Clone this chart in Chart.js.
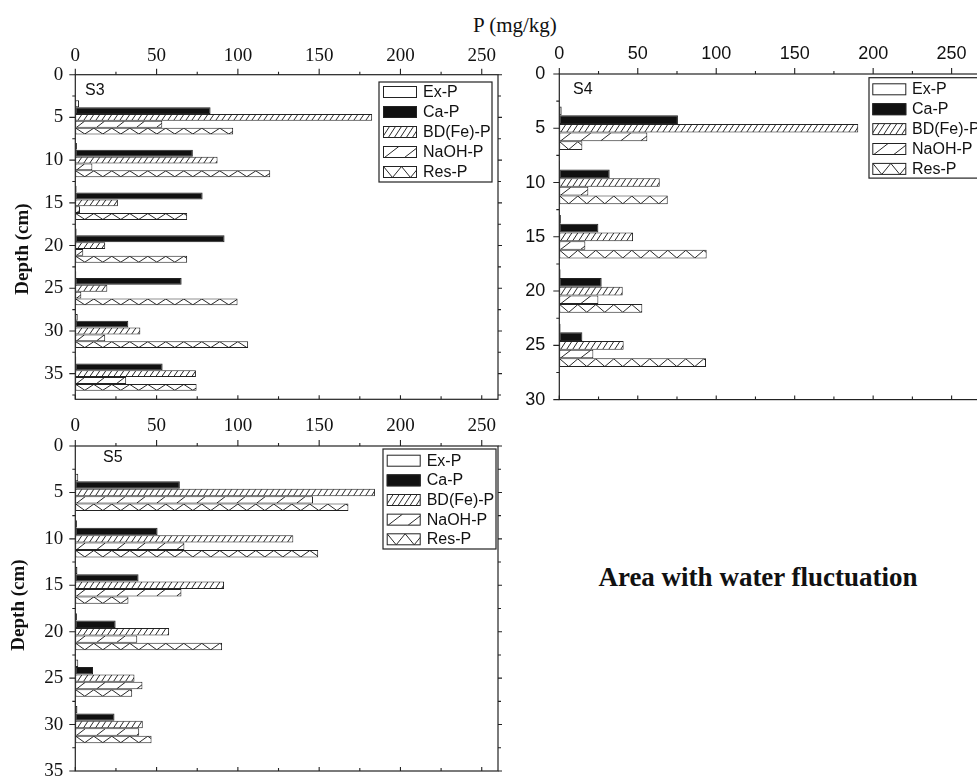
<!DOCTYPE html>
<html><head><meta charset="utf-8">
<script src="https://cdn.jsdelivr.net/npm/chart.js@4.4.1/dist/chart.umd.min.js"></script>
<style>
html,body{margin:0;padding:0;background:#fff;width:977px;height:778px;overflow:hidden;position:relative;}
canvas{position:absolute;}
.t{position:absolute;font-family:"Liberation Serif","Times New Roman",serif;color:#111;white-space:nowrap;}
</style></head><body>
<div class="t" style="left:473px;top:13px;font-size:21px;line-height:24px;">P (mg/kg)</div>
<div class="t" style="left:558px;width:400px;top:562px;text-align:center;font-size:27px;line-height:30px;font-weight:bold;">Area with water fluctuation</div>
<canvas id="c3"></canvas>
<canvas id="c4"></canvas>
<canvas id="c5"></canvas>
<script>
// ---------------- data ----------------
const seriesNames = ['Ex-P', 'Ca-P', 'BD(Fe)-P', 'NaOH-P', 'Res-P'];
const pTicks = [0, 50, 100, 150, 200, 250];

const depthsS3 = [5, 10, 15, 20, 25, 30, 35];
const depthTicksS3 = [0, 5, 10, 15, 20, 25, 30, 35];
const s3ExP   = [2.3, 1.0, 0.8, 0.8, 0.6, 1.5, 0.6];
const s3CaP   = [83.2, 72.3, 78.3, 91.8, 65.4, 32.6, 53.7];
const s3BDFeP = [182.6, 87.5, 26.2, 18.4, 19.7, 40.0, 74.2];
const s3NaOHP = [53.5, 10.5, 2.9, 4.9, 3.7, 18.4, 31.3];
const s3ResP  = [97.1, 119.9, 68.8, 68.8, 99.8, 106.3, 74.6];

const depthsS4 = [5, 10, 15, 20, 25];
const depthTicksS4 = [0, 5, 10, 15, 20, 25, 30];
const s4ExP   = [1.5, 0.4, 1.0, 0.8, 0.8];
const s4CaP   = [75.6, 32.1, 24.9, 27.0, 14.7];
const s4BDFeP = [190.5, 64.0, 47.0, 40.4, 41.0];
const s4NaOHP = [56.1, 18.5, 16.6, 24.9, 21.7];
const s4ResP  = [14.7, 69.1, 93.9, 52.9, 93.5];

const depthsS5 = [5, 10, 15, 20, 25, 30];
const depthTicksS5 = [0, 5, 10, 15, 20, 25, 30, 35];
const s5ExP   = [1.8, 1.0, 1.3, 1.0, 1.8, 1.3];
const s5CaP   = [64.3, 50.6, 38.9, 24.8, 10.9, 24.1];
const s5BDFeP = [184.3, 134.1, 91.5, 57.7, 36.4, 41.5];
const s5NaOHP = [146.2, 67.1, 65.3, 38.1, 41.3, 39.3];
const s5ResP  = [168.0, 149.4, 32.7, 90.3, 35.0, 46.9];

// ---------------- styles ----------------
const hatchTypes = ['none', 'solid', 'dense', 'sparse', 'zigzag'];
const LINE = '#222';

function drawHatch(ctx, type, l, t, w, h) {
  if (type === 'none' || type === 'solid' || w <= 0) return;
  ctx.save();
  ctx.beginPath(); ctx.rect(l, t, w, h); ctx.clip();
  ctx.strokeStyle = '#111'; ctx.lineWidth = 0.9;
  ctx.beginPath();
  if (type === 'dense') {
    const step = 6, run = Math.max(4, h * 0.65);
    for (let x0 = l - run; x0 < l + w + step; x0 += step) { ctx.moveTo(x0, t + h); ctx.lineTo(x0 + run, t); }
  } else if (type === 'sparse') {
    const step = 20, run = h * 1.3;
    for (let x0 = l + 1; x0 < l + w + step; x0 += step) { ctx.moveTo(x0, t + h); ctx.lineTo(x0 + run, t); }
  } else if (type === 'zigzag') {
    const half = 9;
    ctx.moveTo(l, t);
    let x = l, down = true;
    while (x < l + w + half) { x += half; ctx.lineTo(x, down ? t + h : t); down = !down; }
  }
  ctx.stroke();
  ctx.restore();
}

const deco = {
  id: 'deco',
  afterDatasetsDraw(chart) {
    const ctx = chart.ctx;
    chart.data.datasets.forEach((ds, di) => {
      const meta = chart.getDatasetMeta(di);
      meta.data.forEach(el => {
        const p = el.getProps(['x', 'y', 'base', 'height'], true);
        const l = Math.min(p.base, p.x), r = Math.max(p.base, p.x);
        const t = p.y - p.height / 2;
        drawHatch(ctx, ds.hatch, l + 0.5, t + 0.5, r - l - 1, p.height - 1);
      });
    });
  },
  afterDraw(chart, args, o) {
    const {ctx, scales} = chart;
    const xs = scales.x, ys = scales.y;
    const ox = o.ox, oy = o.oy;
    const a = {
      left: xs.getPixelForValue(xs.min), right: xs.getPixelForValue(xs.max),
      top: ys.getPixelForValue(ys.min), bottom: ys.getPixelForValue(ys.max)
    };
    ctx.save();
    ctx.strokeStyle = LINE; ctx.lineWidth = 1.2;
    ctx.strokeRect(a.left, a.top, a.right - a.left, a.bottom - a.top);
    const tickSet = (s) => {
      const maj = s.ticks.map(t => t.value);
      const step = maj[1] - maj[0];
      const out = [];
      for (let v = s.min; v <= s.max + 1e-9; v += step / 2) out.push({v, major: maj.some(m => Math.abs(m - v) < 1e-9)});
      return out;
    };
    ctx.lineWidth = 1.1;
    ctx.beginPath();
    tickSet(xs).forEach(t => {
      const px = xs.getPixelForValue(t.v);
      ctx.moveTo(px, a.top); ctx.lineTo(px, a.top - (t.major ? 6 : 3));
      ctx.moveTo(px, a.bottom); ctx.lineTo(px, a.bottom - (t.major ? 4 : 3));
    });
    tickSet(ys).forEach(t => {
      const py = ys.getPixelForValue(t.v);
      ctx.moveTo(a.left, py); ctx.lineTo(a.left - (t.major ? 6 : 3), py);
      ctx.moveTo(a.right, py); ctx.lineTo(a.right + (t.major ? 4 : 3), py);
    });
    ctx.stroke();
    ctx.fillStyle = '#111';
    ctx.font = '16px "Liberation Sans", Arial, sans-serif';
    ctx.textBaseline = 'middle'; ctx.textAlign = 'left';
    ctx.fillText(o.label.text, o.label.x - ox, o.label.y - oy);
    if (o.depth) {
      ctx.save();
      ctx.translate(o.depth.x - ox, o.depth.y - oy);
      ctx.rotate(-Math.PI / 2);
      ctx.font = 'bold 19px "Liberation Serif", "Times New Roman", serif';
      ctx.textAlign = 'center'; ctx.textBaseline = 'middle';
      ctx.fillText('Depth (cm)', 0, 0);
      ctx.restore();
    }
    const L = o.legend;
    ctx.fillStyle = '#fff';
    ctx.fillRect(L.left - ox, L.top - oy, L.width, L.height);
    ctx.strokeStyle = LINE; ctx.lineWidth = 1.2;
    ctx.strokeRect(L.left - ox, L.top - oy, L.width, L.height);
    ctx.font = '16px "Liberation Sans", Arial, sans-serif';
    chart.data.datasets.forEach((ds, i) => {
      const cy = L.rowY0 + i * L.rowStep - oy;
      const sx = L.swX - ox, sy = cy - L.swH / 2;
      ctx.fillStyle = ds.backgroundColor;
      ctx.fillRect(sx, sy, L.swW, L.swH);
      drawHatch(ctx, ds.hatch, sx + 0.5, sy + 0.5, L.swW - 1, L.swH - 1);
      ctx.strokeStyle = LINE; ctx.lineWidth = 1;
      ctx.strokeRect(sx + 0.5, sy + 0.5, L.swW - 1, L.swH - 1);
      ctx.fillStyle = '#111';
      ctx.textBaseline = 'middle'; ctx.textAlign = 'left';
      ctx.fillText(ds.label, L.textX - ox, cy + 0.5);
    });
    ctx.restore();
  }
};

function makePanel(id, cv, area, cfg) {
  const canvas = document.getElementById(id);
  canvas.width = cv.width; canvas.height = cv.height;
  canvas.style.left = cv.left + 'px'; canvas.style.top = cv.top + 'px';
  canvas.style.width = cv.width + 'px'; canvas.style.height = cv.height + 'px';
  const datasets = seriesNames.map((name, i) => ({
    label: name,
    data: cfg.depths.map((d, j) => ({x: cfg.values[i][j], y: d})),
    backgroundColor: i === 1 ? '#111' : '#fff',
    borderColor: LINE, borderWidth: 1, borderSkipped: false,
    hatch: hatchTypes[i],
    categoryPercentage: 0.8, barPercentage: 1.0
  }));
  const tickFont = {family: cfg.tickFamily, size: cfg.tickSize};
  const zeroPad = s => { s.paddingTop = 0; s.paddingBottom = 0; s.paddingLeft = 0; s.paddingRight = 0; };
  new Chart(canvas, {
    type: 'bar',
    data: {datasets},
    options: {
      indexAxis: 'y', responsive: false, maintainAspectRatio: false, animation: false, events: [],
      layout: {padding: {left: 0, top: 0, right: cv.left + cv.width - area.right, bottom: cv.top + cv.height - area.bottom}},
      plugins: {
        legend: {display: false}, tooltip: {enabled: false},
        deco: {ox: cv.left, oy: cv.top, label: cfg.label, depth: cfg.depth, legend: cfg.legend}
      },
      scales: {
        x: {
          type: 'linear', position: 'top', min: 0, max: cfg.xMax, offset: false,
          afterBuildTicks: s => { s.ticks = pTicks.map(v => ({value: v})); },
          afterFit: s => { s.height = area.top - cv.top; zeroPad(s); },
          grid: {display: false, drawTicks: false, offset: false}, border: {display: false},
          ticks: {font: tickFont, color: '#111', padding: cfg.xPad, maxRotation: 0, autoSkip: false}
        },
        y: {
          type: 'linear', reverse: true, min: 0, max: cfg.yMax, offset: false,
          afterBuildTicks: s => { s.ticks = cfg.yTicks.map(v => ({value: v})); },
          afterFit: s => { s.width = area.left - cv.left; zeroPad(s); },
          grid: {display: false, drawTicks: false, offset: false}, border: {display: false},
          ticks: {font: tickFont, color: '#111', padding: cfg.yPad, autoSkip: false}
        }
      }
    },
    plugins: [deco]
  });
}

makePanel('c3', {left: 0, top: 0, width: 510, height: 410},
  {left: 75.3, top: 74.7, right: 498, bottom: 399.3},
  {depths: depthsS3, values: [s3ExP, s3CaP, s3BDFeP, s3NaOHP, s3ResP], yTicks: depthTicksS3,
   xMax: 260, yMax: 38, tickFamily: '"Liberation Serif", "Times New Roman", serif', tickSize: 19, xPad: 7, yPad: 12,
   label: {text: 'S3', x: 85, y: 91}, depth: {x: 23, y: 249},
   legend: {left: 379, top: 82, width: 113, height: 100, swX: 383, swW: 34, swH: 12, rowY0: 92, rowStep: 20, textX: 423}});

makePanel('c4', {left: 500, top: 0, width: 490, height: 410},
  {left: 559.3, top: 74, right: 983, bottom: 399.6},
  {depths: depthsS4, values: [s4ExP, s4CaP, s4BDFeP, s4NaOHP, s4ResP], yTicks: depthTicksS4,
   xMax: 270, yMax: 30, tickFamily: '"Liberation Sans", Arial, sans-serif', tickSize: 18, xPad: 8.7, yPad: 14,
   label: {text: 'S4', x: 573, y: 90}, depth: null,
   legend: {left: 869, top: 77.7, width: 125, height: 100.4, swX: 872.3, swW: 34, swH: 12, rowY0: 89.3, rowStep: 19.9, textX: 912}});

makePanel('c5', {left: 0, top: 405, width: 510, height: 373},
  {left: 75.3, top: 446, right: 498, bottom: 771},
  {depths: depthsS5, values: [s5ExP, s5CaP, s5BDFeP, s5NaOHP, s5ResP], yTicks: depthTicksS5,
   xMax: 260, yMax: 35, tickFamily: '"Liberation Serif", "Times New Roman", serif', tickSize: 19, xPad: 8.6, yPad: 12,
   label: {text: 'S5', x: 103, y: 457.5}, depth: {x: 19, y: 605},
   legend: {left: 383, top: 449, width: 113, height: 100, swX: 386.7, swW: 34, swH: 12, rowY0: 460.7, rowStep: 19.65, textX: 426.7}});
</script>
</body></html>
